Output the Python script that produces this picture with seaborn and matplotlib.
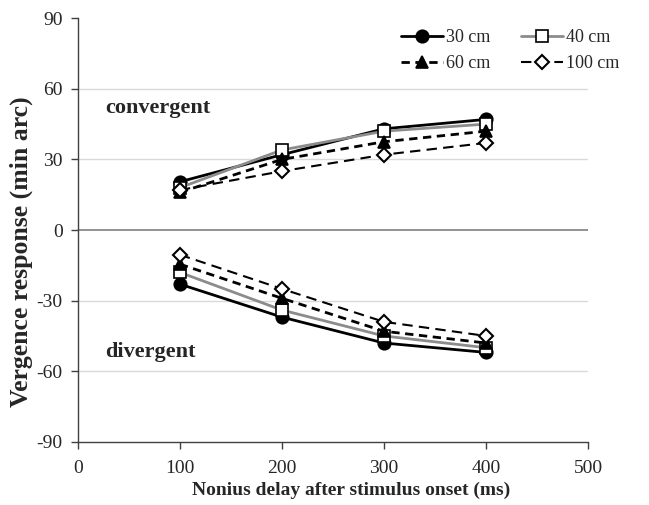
import matplotlib
matplotlib.use("Agg")
import matplotlib.pyplot as plt
import seaborn as sns
import pandas as pd

# Nonius delay after stimulus onset (ms)
delays = [100, 200, 300, 400]
distances = ["30 cm", "40 cm", "60 cm", "100 cm"]

# Mean vergence response (min arc) per viewing distance
conv_30 = [20.5, 32, 43, 47]
conv_40 = [18, 34, 42, 45]
conv_60 = [16, 30, 37.5, 42]
conv_100 = [17, 25, 32, 37]

div_30 = [-23, -37, -48, -52]
div_40 = [-18, -34, -45, -50]
div_60 = [-14.5, -29, -43, -48]
div_100 = [-10.5, -25, -39, -45]

convergent = [conv_30, conv_40, conv_60, conv_100]
divergent = [div_30, div_40, div_60, div_100]

rows = []
for name, cv, dv in zip(distances, convergent, divergent):
    for d, v in zip(delays, cv):
        rows.append({"distance": name, "branch": "convergent", "delay": d, "resp": v})
    for d, v in zip(delays, dv):
        rows.append({"distance": name, "branch": "divergent", "delay": d, "resp": v})
df = pd.DataFrame(rows)

styles = {
    "30 cm": dict(color="black", marker="o", mfc="black", mec="black", ls="-", lw=2.0, ms=9),
    "40 cm": dict(color="#8c8c8c", marker="s", mfc="white", mec="black", ls="-", lw=2.0, ms=9),
    "60 cm": dict(color="black", marker="^", mfc="black", mec="black", ls=(0, (3, 2)), lw=2.0, ms=9),
    "100 cm": dict(color="black", marker="D", mfc="white", mec="black", ls=(0, (5, 3)), lw=1.5, ms=7, mew=1.5),
}

sns.set_style("white")
plt.rcParams["font.family"] = ["Liberation Serif", "DejaVu Serif"]
plt.rcParams["axes.unicode_minus"] = False

fig = plt.figure(figsize=(6.49, 5.05), dpi=100)
ax = fig.add_axes([0.120, 0.125, 0.786, 0.839])

# light horizontal grid and the darker zero line
for g in [60, 30, -30, -60]:
    ax.axhline(g, color="#d9d9d9", lw=1, zorder=0)
ax.axhline(0, color="#808080", lw=1.2, zorder=0)

handles = {}
for name in distances:
    sub = df[df["distance"] == name]
    st = dict(styles[name])
    color = st.pop("color")
    ls = st.pop("ls")
    sns.lineplot(data=sub, x="delay", y="resp", units="branch", estimator=None,
                 color=color, linestyle=ls, ax=ax, legend=False,
                 markeredgewidth=st.pop("mew", 1.2), **st)
    handles[name] = ax.get_lines()[-1]

ax.set_xlim(0, 500)
ax.set_ylim(-90, 90)
ax.set_xticks([0, 100, 200, 300, 400, 500])
ax.set_yticks([-90, -60, -30, 0, 30, 60, 90])
ax.tick_params(axis="both", which="major", labelsize=14, direction="out",
               length=5, width=1, color="#404040", bottom=True, left=True)
ax.tick_params(axis="y", pad=6)
ax.tick_params(axis="x", pad=8)
for s in ["top", "right"]:
    ax.spines[s].set_visible(False)
for s in ["left", "bottom"]:
    ax.spines[s].set_color("#404040")
    ax.spines[s].set_linewidth(1)

ax.set_xlabel("Nonius delay after stimulus onset (ms)", fontsize=14, fontweight="bold")
ax.set_ylabel("Vergence response (min arc)", fontsize=18.5, fontweight="bold")
ax.xaxis.set_label_coords(0.535, -0.095)
ax.yaxis.set_label_coords(-0.088, 0.45)

ax.text(26.5, 52, "convergent", fontsize=16, fontweight="bold", ha="left", va="center")
ax.text(26.5, -52, "divergent", fontsize=16, fontweight="bold", ha="left", va="center")

# row-wise order: 30/40 on the first row, 60/100 on the second
order = ["30 cm", "60 cm", "40 cm", "100 cm"]
leg = fig.legend([handles[n] for n in order], order, ncol=2,
                 loc="upper right", bbox_to_anchor=(0.98, 0.975), frameon=False,
                 fontsize=13, handlelength=2.3, columnspacing=1.7, handletextpad=0.2,
                 labelspacing=0.5)

fig.savefig("out.png", dpi=100)
